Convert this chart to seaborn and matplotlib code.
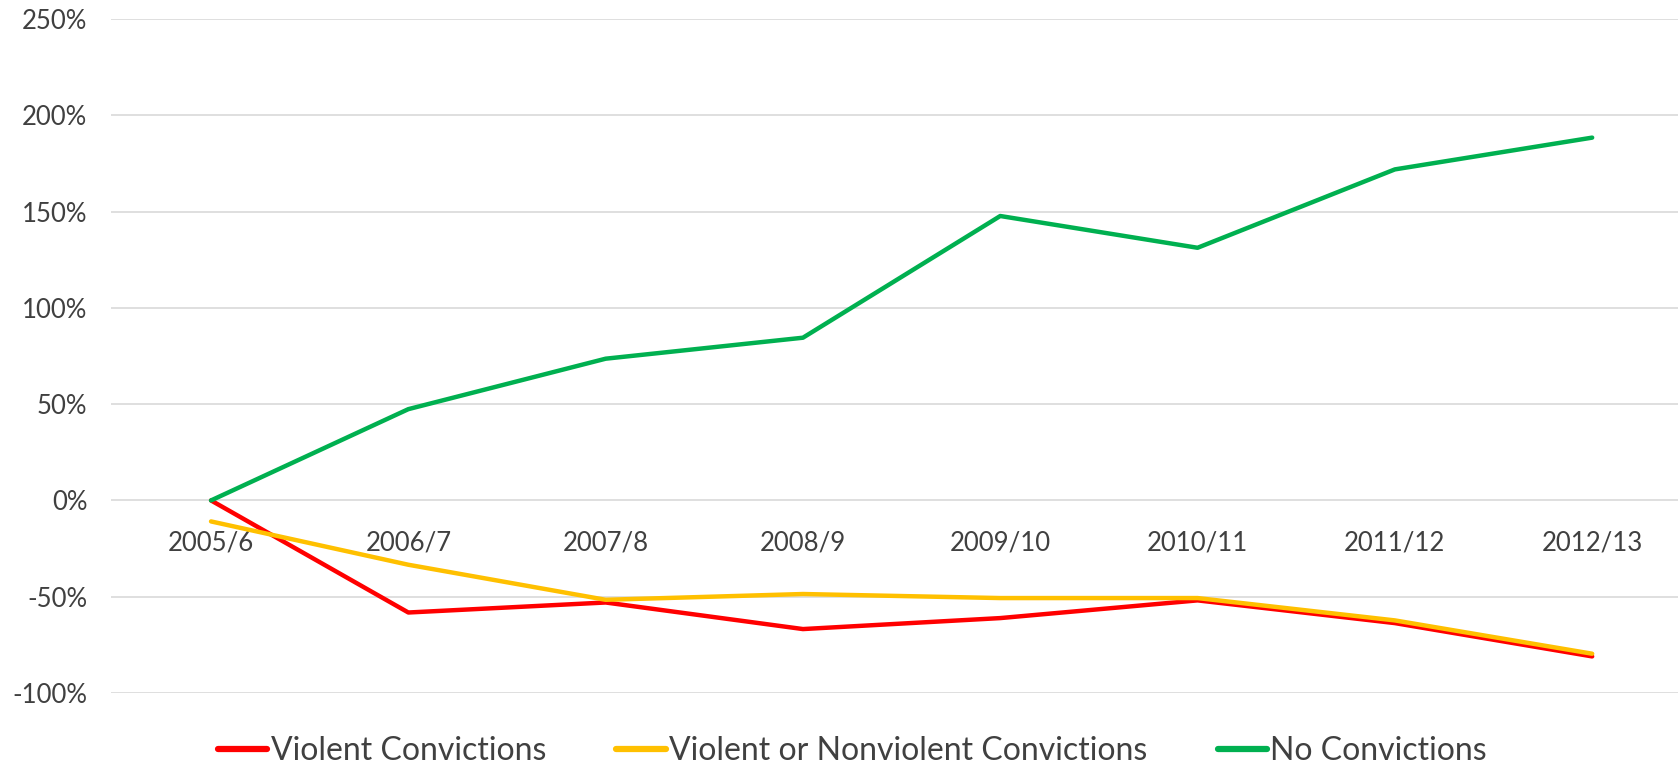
import matplotlib
matplotlib.use("Agg")
import matplotlib.pyplot as plt
import seaborn as sns
import pandas as pd
from matplotlib.ticker import FuncFormatter, FixedLocator

years = ["2005/6", "2006/7", "2007/8", "2008/9", "2009/10", "2010/11", "2011/12", "2012/13"]
violent = [0, -58.2, -53.0, -66.8, -61.1, -51.9, -63.7, -81.0]
violent_or_nonviolent = [-10.9, -33.4, -51.6, -48.6, -50.7, -50.7, -62.3, -79.6]
no_convictions = [0, 47.4, 73.6, 84.5, 147.7, 131.2, 171.9, 188.4]
series_names = ["Violent Convictions", "Violent or Nonviolent Convictions", "No Convictions"]
colors = ["#FF0000", "#FFC000", "#00B050"]
y_ticks = [-100, -50, 0, 50, 100, 150, 200, 250]

rows = []
for name, vals in zip(series_names, [violent, violent_or_nonviolent, no_convictions]):
    for i, (yr, v) in enumerate(zip(years, vals)):
        rows.append({"idx": i, "year": yr, "value": v, "series": name})
df = pd.DataFrame(rows)

sns.set_theme(style="white")
plt.rcParams["font.family"] = ["Lato", "DejaVu Sans"]
text_color = "#404040"

fig = plt.figure(figsize=(16.78, 7.65), dpi=100)
ax = fig.add_axes([111 / 1678, 1 - 693 / 765, 1 - 111 / 1678, (693 - 19) / 765])

sns.lineplot(data=df, x="idx", y="value", hue="series", hue_order=series_names,
             palette=colors, linewidth=3.2, sort=False, ax=ax, legend=True)

ax.set_xlim(-0.507, 7.435)
ax.set_ylim(-100, 250)
ax.yaxis.set_major_locator(FixedLocator(y_ticks))
ax.yaxis.set_major_formatter(FuncFormatter(lambda v, p: f"{int(round(v))}%"))
ax.set_xticks(range(len(years)))
ax.set_xticklabels(years)
ax.grid(axis="y", color="#D9D9D9", linewidth=1.2)
ax.grid(axis="x", visible=False)
ax.set_axisbelow(True)
for s in ["top", "right", "left"]:
    ax.spines[s].set_visible(False)
ax.spines["bottom"].set_position(("data", 0))
ax.spines["bottom"].set_visible(False)
ax.tick_params(axis="x", length=0, pad=22, labelsize=18.5, labelcolor=text_color)
ax.tick_params(axis="y", length=0, pad=17, labelsize=18.5, labelcolor=text_color)
ax.set_xlabel("")
ax.set_ylabel("")

handles, labels = ax.get_legend_handles_labels()
for h in handles:
    h.set_linewidth(4.5)
ax.legend_.remove()
fig.legend(handles, labels, loc="center", bbox_to_anchor=(0.508, 1 - 751 / 765),
           ncol=3, frameon=False, fontsize=23, handlelength=1.55, handletextpad=0.1,
           columnspacing=2.2, labelcolor=text_color)

fig.savefig("out.png", dpi=100)
